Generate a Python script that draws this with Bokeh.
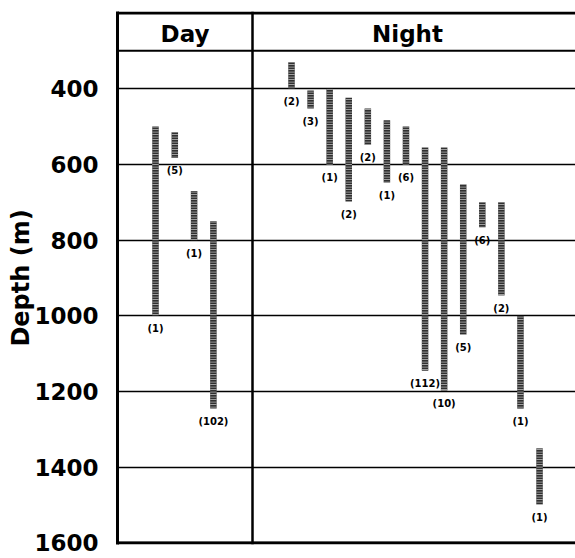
from bokeh.plotting import figure
from bokeh.models import Range1d, FixedTicker, Span, ColumnDataSource
from bokeh.core.properties import value
from bokeh.embed import file_html
from bokeh.resources import INLINE

# ---- data (depth ranges in m, and number of specimens) ----
day_top = [500, 515, 670, 750]
day_bottom = [1000, 583, 800, 1245]
day_n = ["(1)", "(5)", "(1)", "(102)"]

night_top = [330, 405, 400, 424, 452, 483, 500, 555, 555, 653, 700, 700, 1000, 1350]
night_bottom = [400, 452, 600, 698, 548, 648, 600, 1145, 1197, 1049, 766, 946, 1245, 1498]
night_n = ["(2)", "(3)", "(1)", "(2)", "(2)", "(1)", "(6)", "(112)", "(10)", "(5)",
           "(6)", "(2)", "(1)", "(1)"]

depth_ticks = [400, 600, 800, 1000, 1200, 1400, 1600]
panels = ["Day", "Night"]

# ---- layout helpers (horizontal placement of the bars in each panel) ----
DAY_W = 135
day_x = [38 + 19.3 * i for i in range(len(day_top))]
night_x = [DAY_W + 39 + 19.08 * i for i in range(len(night_top))]

FONT = "DejaVu Sans"

p = figure(width=575, height=558, output_backend="svg", toolbar_location=None,
           x_range=Range1d(0, 458), y_range=Range1d(1604, 196),
           x_axis_location=None, min_border_left=117, min_border_right=0,
           min_border_top=11, min_border_bottom=14)
p.outline_line_color = None
p.background_fill_color = "white"
p.xgrid.visible = False
p.ygrid.grid_line_color = "black"
p.ygrid.grid_line_width = 1.3
p.ygrid.ticker = FixedTicker(ticks=depth_ticks)

ax = p.yaxis[0]
ax.ticker = FixedTicker(ticks=depth_ticks)
ax.axis_line_width = 3
ax.axis_line_color = "black"
ax.major_tick_line_color = None
ax.minor_tick_line_color = None
ax.major_label_standoff = 13
ax.major_label_text_font = FONT
ax.major_label_text_font_style = "bold"
ax.major_label_text_font_size = "23px"
ax.major_label_text_color = "black"
ax.axis_label = "Depth (m)"
ax.axis_label_text_font = FONT
ax.axis_label_text_font_style = "bold"
ax.axis_label_text_font_size = "24px"
ax.axis_label_text_color = "black"
ax.axis_label_standoff = -4

# frame lines
p.add_layout(Span(location=200, dimension="width", line_color="black", line_width=3))
p.add_layout(Span(location=300, dimension="width", line_color="black", line_width=2))
p.add_layout(Span(location=1600, dimension="width", line_color="black", line_width=3))
p.add_layout(Span(location=DAY_W, dimension="height", line_color="black", line_width=2.5))

src = ColumnDataSource(dict(
    x=day_x + night_x,
    top=day_top + night_top,
    bottom=day_bottom + night_bottom,
    n=day_n + night_n,
))

p.vbar(x="x", top="top", bottom="bottom", width=6.5, source=src,
       fill_color="#303030", line_color=None,
       hatch_pattern="horizontal_line", hatch_color="#b8b8b8",
       hatch_scale=2.5, hatch_weight=1)

p.text(x="x", y="bottom", text="n", source=src, y_offset=13,
       text_font=value(FONT), text_font_style="bold", text_font_size="10px",
       text_align="center", text_baseline="middle", text_color="black")

p.text(x=[DAY_W / 2, 290], y=[255, 255], text=panels,
       text_font=value(FONT), text_font_style="bold", text_font_size="23px",
       text_align="center", text_baseline="middle", text_color="black")

open("out.html", "w").write(file_html(p, INLINE))
